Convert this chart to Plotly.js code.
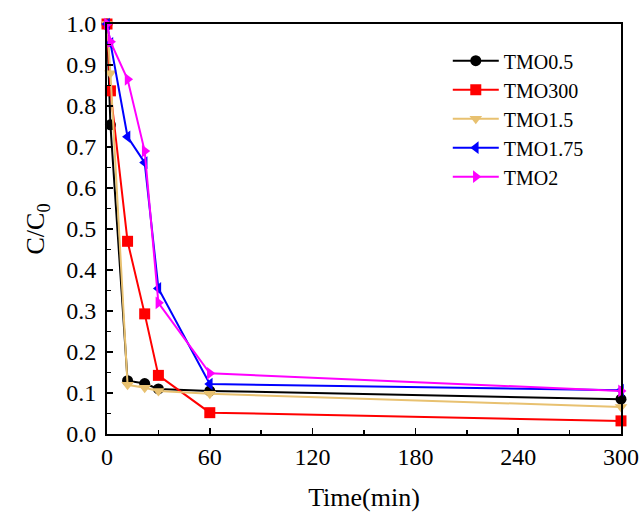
<!DOCTYPE html>
<html>
<head>
<meta charset="utf-8">
<script src="https://cdn.plot.ly/plotly-3.0.1.min.js"></script>
<style>html,body{margin:0;padding:0;background:#fff;}#chart{width:640px;height:512px;}</style>
</head>
<body>
<div id="chart"></div>
<script>
const time = [0, 2, 12, 22, 30, 60, 300];
const tmo05 = [1.0, 0.754, 0.130, 0.123, 0.110, 0.105, 0.085];
const tmo300 = [1.0, 0.837, 0.470, 0.293, 0.143, 0.052, 0.032];
const tmo15 = [1.0, 0.880, 0.120, 0.113, 0.105, 0.098, 0.066];
const tmo175 = [1.0, 0.953, 0.725, 0.662, 0.355, 0.122, 0.107];
const tmo2 = [1.0, 0.957, 0.865, 0.690, 0.320, 0.148, 0.105];
const names = ["TMO0.5", "TMO300", "TMO1.5", "TMO1.75", "TMO2"];
const xTicks = [0, 60, 120, 180, 240, 300];
const yTicks = [0.0, 0.1, 0.2, 0.3, 0.4, 0.5, 0.6, 0.7, 0.8, 0.9, 1.0];

const series = [tmo05, tmo300, tmo15, tmo175, tmo2];
const colors = ["#000000", "#ff0000", "#e8c170", "#0000ff", "#ff00ff"];
const symbols = ["circle", "square", "triangle-down", "triangle-left", "triangle-right"];

const traces = series.map((ys, i) => ({
  x: time, y: ys, name: names[i], type: "scatter", mode: "lines+markers",
  line: {color: colors[i], width: 2},
  marker: {color: colors[i], symbol: symbols[i], size: 11},
  cliponaxis: false
}));

const FAM = "Liberation Serif";
const layout = {
  width: 640, height: 512,
  margin: {l: 107, r: 19, t: 24, b: 78},
  paper_bgcolor: "#fff", plot_bgcolor: "#fff",
  font: {family: FAM, size: 22, color: "#000"},
  showlegend: true,
  legend: {x: 0.663, y: 0.958, xanchor: "left", yanchor: "top", bgcolor: "rgba(0,0,0,0)",
           font: {family: FAM, size: 20, color: "#000"}, tracegroupgap: 0, itemwidth: 46},
  xaxis: {
    range: [0, 300], tickvals: xTicks, ticktext: xTicks.map(String),
    ticks: "inside", ticklen: 6, tickwidth: 1.5, tickcolor: "#000",
    minor: {dtick: 30, ticks: "inside", ticklen: 4, tickwidth: 1.5, tickcolor: "#000"},
    showline: true, linecolor: "#000", linewidth: 2, mirror: true,
    showgrid: false, zeroline: false,
    tickfont: {family: FAM, size: 24, color: "#000"},
    title: {text: "Time(min)", font: {family: FAM, size: 26, color: "#000"}, standoff: 22}
  },
  yaxis: {
    range: [0, 1.0], tickvals: yTicks, ticktext: yTicks.map(v => v.toFixed(1)),
    ticks: "inside", ticklen: 6, tickwidth: 1.5, tickcolor: "#000",
    minor: {dtick: 0.05, ticks: "inside", ticklen: 4, tickwidth: 1.5, tickcolor: "#000"},
    showline: true, linecolor: "#000", linewidth: 2, mirror: true,
    showgrid: false, zeroline: false, ticklabelstandoff: 4,
    tickfont: {family: FAM, size: 24, color: "#000"},
    title: {text: "C/C<sub>0</sub>", font: {family: FAM, size: 26, color: "#000"}, standoff: 14}
  }
};
Plotly.newPlot("chart", traces, layout, {displayModeBar: false, staticPlot: true});
</script>
</body>
</html>
